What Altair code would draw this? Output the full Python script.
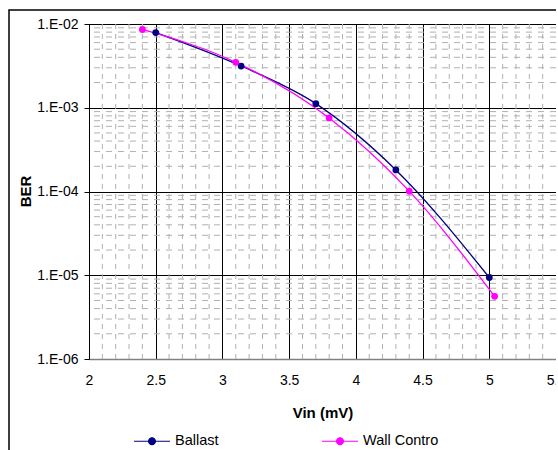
import altair as alt
import pandas as pd

# ---- data ----
series_names = ["Ballast", "Wall Contro"]
series_colors = ["#000080", "#FF00FF"]

ballast_vin = [2.50, 3.14, 3.70, 4.30, 5.00]
ballast_ber = [7.9e-3, 3.15e-3, 1.12e-3, 1.81e-4, 9.4e-6]

wall_vin = [2.40, 3.10, 3.80, 4.40, 5.04]
wall_ber = [8.6e-3, 3.49e-3, 7.55e-4, 1.01e-4, 5.6e-6]

x_ticks = [2, 2.5, 3, 3.5, 4, 4.5, 5, 5.5]
y_ticks = [1e-2, 1e-3, 1e-4, 1e-5, 1e-6]

# minor grid positions (every 0.1 in x, 2..9 per decade in y)
minor_x = [round(2 + 0.1 * i, 1) for i in range(1, 35) if i % 5 != 0]
minor_y = [k * 10.0 ** e for e in range(-6, -2) for k in range(2, 10)]

df = pd.DataFrame({
    "vin": ballast_vin + wall_vin,
    "ber": ballast_ber + wall_ber,
    "series": [series_names[0]] * len(ballast_vin) + [series_names[1]] * len(wall_vin),
})
gx = pd.DataFrame({"v": minor_x})
gy = pd.DataFrame({"v": minor_y})

FONT = "Liberation Sans"
xs = alt.Scale(domain=[2, 5.5], nice=False, zero=False)
ys = alt.Scale(type="log", domain=[1e-6, 1e-2], nice=False)

x_axis = alt.Axis(
    values=x_ticks, format="~g", title="Vin (mV)", grid=True, gridColor="#000000", gridWidth=1,
    ticks=False, domainColor="#808080", domainWidth=1.5, labelPadding=14,
    labelFont=FONT, labelFontSize=14, labelColor="#000000", labelFlush=False,
    titleFont=FONT, titleFontSize=15, titleFontWeight="bold", titleColor="#000000",
    titleY=53, titleBaseline="middle",
)
y_axis = alt.Axis(
    values=y_ticks, title="BER", grid=True, gridColor="#000000", gridWidth=1,
    ticks=True, tickSize=5, tickColor="#000000", domainColor="#000000",
    labelPadding=6, labelFont=FONT, labelFontSize=14, labelColor="#000000",
    labelExpr="'1.E-0' + format(-log(datum.value) / LN10, '.0f')",
    titleFont=FONT, titleFontSize=15, titleFontWeight="bold", titleColor="#000000",
    titleX=-64, titleY=167, titleAngle=270, titleAlign="center", titleBaseline="middle",
)

frame = alt.Chart(pd.DataFrame({"a": [0]})).mark_rect(
    fill=None, stroke="#000000", strokeWidth=1.5, clip=False
).encode(x=alt.value(-80), x2=alt.value(620), y=alt.value(-14), y2=alt.value(520))

vgrid = alt.Chart(gx).mark_rule(color="#b0b0b0", strokeDash=[5, 5], strokeWidth=1).encode(
    x=alt.X("v:Q", scale=xs, axis=x_axis)
)
hgrid = alt.Chart(gy).mark_rule(color="#b0b0b0", strokeDash=[6, 6], strokeWidth=1).encode(
    y=alt.Y("v:Q", scale=ys, axis=y_axis)
)

color = alt.Color(
    "series:N",
    scale=alt.Scale(domain=series_names, range=series_colors),
    legend=alt.Legend(
        title=None, orient="none", direction="horizontal", columns=2,
        legendX=44, legendY=398, padding=0, columnPadding=100,
        symbolType="M-1,0L1,0M-0.19,0A0.19,0.19,0,1,0,0.19,0A0.19,0.19,0,1,0,-0.19,0Z",
        symbolSize=1296, symbolStrokeWidth=1.2, labelOffset=4,
        labelFont=FONT, labelFontSize=14.5, labelColor="#000000", labelLimit=200,
    ),
)

lines = alt.Chart(df).mark_line(interpolate="monotone", strokeWidth=1.3).encode(
    x=alt.X("vin:Q", scale=xs, title="Vin (mV)"),
    y=alt.Y("ber:Q", scale=ys, title="BER"),
    color=color,
)
points = alt.Chart(df).mark_point(filled=True, size=46, opacity=1).encode(
    x=alt.X("vin:Q", scale=xs, title="Vin (mV)"),
    y=alt.Y("ber:Q", scale=ys, title="BER"),
    color=color,
)

chart = alt.layer(frame, vgrid, hgrid, lines, points).properties(
    width=467, height=335,
    autosize=alt.AutoSizeParams(type="none"),
    padding={"left": 89, "top": 24, "right": 0, "bottom": 91},
).configure_view(stroke="#000000", strokeWidth=1).configure(background="#ffffff")

chart.save("out.html", embed_options={"renderer": "svg", "actions": False})
